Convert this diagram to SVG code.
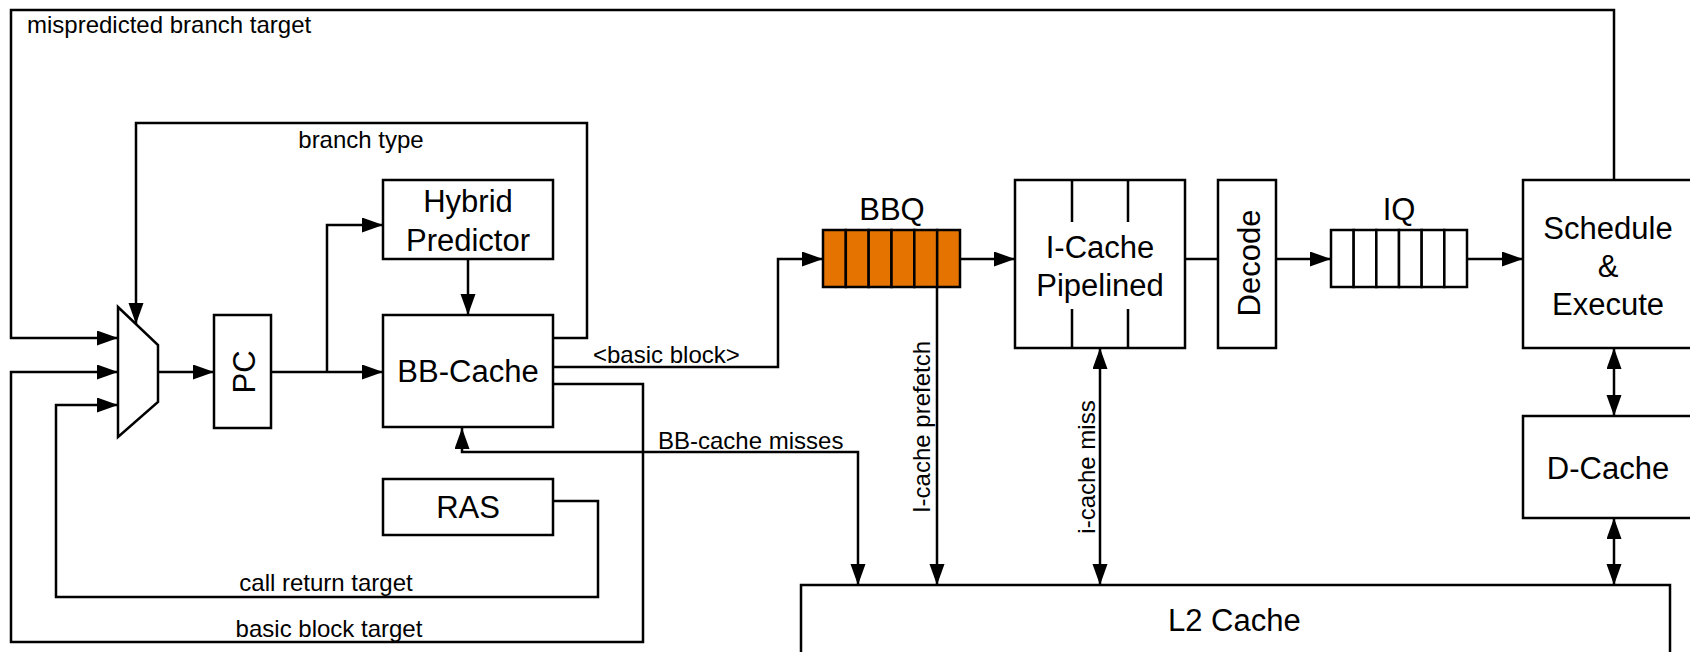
<svg xmlns="http://www.w3.org/2000/svg" width="1690" height="652" viewBox="0 0 1690 652">
<defs>
<style>
.box{fill:#fff;stroke:#000;stroke-width:2.5}
.q{fill:#E47300;stroke:#000;stroke-width:2.5}
.qw{fill:#fff;stroke:#000;stroke-width:2.5}
.ln{fill:none;stroke:#000;stroke-width:2.5}
.big{font-family:"Liberation Sans",Arial,sans-serif;font-size:31px;fill:#000}
.sm{font-family:"Liberation Sans",Arial,sans-serif;font-size:24px;fill:#000}
.c{text-anchor:middle}
</style>
<marker id="ah" markerUnits="userSpaceOnUse" markerWidth="22" markerHeight="16" refX="21" refY="7.5" orient="auto-start-reverse">
<path d="M0,0 L21,7.5 L0,15 z" fill="#000"/>
</marker>
</defs>

<g id="connectors">
<!-- mispredicted branch target -->
<path class="ln" d="M1614,180 V10 H11 V338 H118" marker-end="url(#ah)"/>
<!-- branch type -->
<path class="ln" d="M553,338 H587 V123 H136 V324" marker-end="url(#ah)"/>
<!-- basic block target -->
<path class="ln" d="M553,384 H643 V642 H11 V372 H118" marker-end="url(#ah)"/>
<!-- call return target -->
<path class="ln" d="M553,501 H598 V597 H56 V405 H118" marker-end="url(#ah)"/>
<!-- mux to PC -->
<path class="ln" d="M158,372 H214" marker-end="url(#ah)"/>
<!-- PC to BB-Cache -->
<path class="ln" d="M271,372 H383" marker-end="url(#ah)"/>
<!-- PC to Hybrid -->
<path class="ln" d="M327,372 V225 H383" marker-end="url(#ah)"/>
<!-- Hybrid to BB-Cache -->
<path class="ln" d="M468,259 V315" marker-end="url(#ah)"/>
<!-- basic block to BBQ -->
<path class="ln" d="M553,367 H778 V259 H823" marker-end="url(#ah)"/>
<!-- BB-cache misses -->
<path class="ln" d="M462,428 V452 H858 V585" marker-start="url(#ah)" marker-end="url(#ah)"/>
<!-- BBQ to I-Cache -->
<path class="ln" d="M960,259 H1015" marker-end="url(#ah)"/>
<!-- I-cache prefetch -->
<path class="ln" d="M937,287 V585" marker-end="url(#ah)"/>
<!-- i-cache miss -->
<path class="ln" d="M1100,348 V585" marker-start="url(#ah)" marker-end="url(#ah)"/>
<!-- I-Cache to Decode -->
<path class="ln" d="M1185,259 H1218"/>
<!-- Decode to IQ -->
<path class="ln" d="M1276,259 H1331" marker-end="url(#ah)"/>
<!-- IQ to Schedule -->
<path class="ln" d="M1467,259 H1523" marker-end="url(#ah)"/>
<!-- Schedule <-> D-Cache -->
<path class="ln" d="M1614,348 V416" marker-start="url(#ah)" marker-end="url(#ah)"/>
<!-- D-Cache <-> L2 -->
<path class="ln" d="M1614,518 V585" marker-start="url(#ah)" marker-end="url(#ah)"/>

<text class="sm" x="27" y="33">mispredicted branch target</text>
<text class="sm c" x="361" y="148">branch type</text>
<text class="sm c" x="326" y="591">call return target</text>
<text class="sm c" x="329" y="637">basic block target</text>
<text class="sm" x="593" y="363">&lt;basic block&gt;</text>
<text class="sm" x="658" y="449">BB-cache misses</text>
<text class="sm c" transform="translate(930,427) rotate(-90)">I-cache prefetch</text>
<text class="sm c" transform="translate(1095,467) rotate(-90)">i-cache miss</text>
</g>

<g id="mux">
<polygon class="box" points="118,307 158,345 158,402 118,437"/>
</g>

<g id="pc">
<rect class="box" x="214" y="315" width="57" height="113"/>
<text class="big c" transform="translate(255,372) rotate(-90)">PC</text>
</g>

<g id="hybrid-predictor">
<rect class="box" x="383" y="180" width="170" height="79"/>
<text class="big c" x="468" y="212">Hybrid</text>
<text class="big c" x="468" y="251">Predictor</text>
</g>

<g id="bb-cache">
<rect class="box" x="383" y="315" width="170" height="112"/>
<text class="big c" x="468" y="382">BB-Cache</text>
</g>

<g id="ras">
<rect class="box" x="383" y="479" width="170" height="56"/>
<text class="big c" x="468" y="518">RAS</text>
</g>

<g id="bbq">
<text class="big c" x="892" y="220">BBQ</text>
<rect class="q" x="823" y="230" width="22.83" height="57"/>
<rect class="q" x="845.83" y="230" width="22.83" height="57"/>
<rect class="q" x="868.67" y="230" width="22.83" height="57"/>
<rect class="q" x="891.5" y="230" width="22.83" height="57"/>
<rect class="q" x="914.33" y="230" width="22.83" height="57"/>
<rect class="q" x="937.17" y="230" width="22.83" height="57"/>
</g>

<g id="i-cache">
<rect class="box" x="1015" y="180" width="170" height="168"/>
<path class="ln" d="M1072,180 V222 M1128,180 V222 M1072,309 V348 M1128,309 V348"/>
<text class="big c" x="1100" y="258">I-Cache</text>
<text class="big c" x="1100" y="296">Pipelined</text>
</g>

<g id="decode">
<rect class="box" x="1218" y="180" width="58" height="168"/>
<text class="big c" transform="translate(1260,263) rotate(-90)">Decode</text>
</g>

<g id="iq">
<text class="big c" x="1399" y="220">IQ</text>
<rect class="qw" x="1331" y="230" width="22.67" height="57"/>
<rect class="qw" x="1353.67" y="230" width="22.67" height="57"/>
<rect class="qw" x="1376.33" y="230" width="22.67" height="57"/>
<rect class="qw" x="1399" y="230" width="22.67" height="57"/>
<rect class="qw" x="1421.67" y="230" width="22.67" height="57"/>
<rect class="qw" x="1444.33" y="230" width="22.67" height="57"/>
</g>

<g id="schedule-execute">
<rect class="box" x="1523" y="180" width="200" height="168"/>
<text class="big c" x="1608" y="239">Schedule</text>
<text class="big c" x="1608" y="277">&amp;</text>
<text class="big c" x="1608" y="315">Execute</text>
</g>

<g id="d-cache">
<rect class="box" x="1523" y="416" width="200" height="102"/>
<text class="big c" x="1608" y="479">D-Cache</text>
</g>

<g id="l2-cache">
<rect class="box" x="801" y="585" width="869" height="100"/>
<text class="big" x="1168" y="631">L2 Cache</text>
</g>
</svg>
